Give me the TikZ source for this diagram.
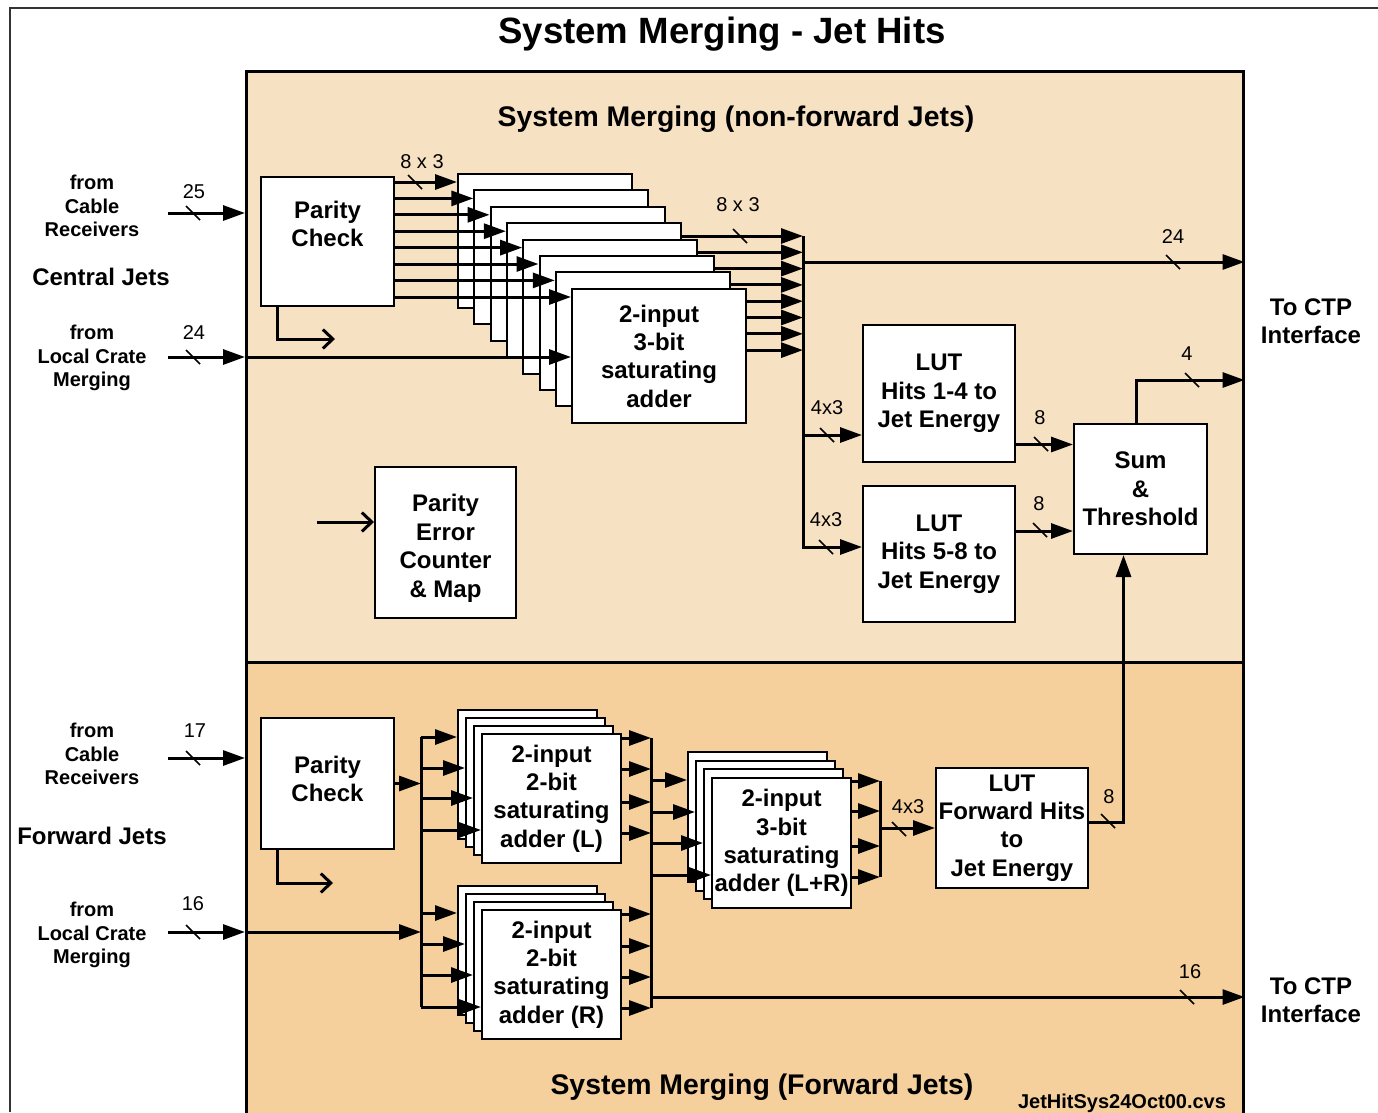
\documentclass[tikz,border=0pt]{standalone}
\usepackage{fontspec}
\setmainfont{Liberation Sans}
\usetikzlibrary{arrows.meta,positioning}
\definecolor{upperfill}{HTML}{F7E1C3}
\definecolor{lowerfill}{HTML}{F5D09C}
\tikzset{
  frame/.style={draw=black!80, line width=1.2pt},
  wire/.style={draw=black, line width=3pt},
  feed/.style={wire, -{Triangle[length=22pt,width=15pt]}},
  tap/.style={wire, -{Straight Barb[length=10pt,width=19pt]}},
  tick/.style={draw=black, line width=1.6pt},
  panel/.style={draw=black, line width=2.5pt, inner sep=0pt, anchor=north west},
  block/.style={
    draw=black,
    fill=white,
    line width=2pt,
    inner sep=0pt,
    anchor=north west,
    align=center,
    font=\bfseries\fontsize{24}{28.3}\selectfont
  },
  stackbox/.style={block, minimum width=139pt, minimum height=129pt},
  boldlabel/.style={font=\bfseries\fontsize{24}{28.5}\selectfont, align=center},
  inlabel/.style={font=\bfseries\fontsize{20}{23.5}\selectfont, align=center},
  paneltitle/.style={font=\bfseries\fontsize{28.4}{32}\selectfont},
  widthlabel/.style={font=\fontsize{20}{24}\selectfont}
}

\begin{document}
\begin{tikzpicture}[x=1pt, y=-1pt]
  % Frame and the two shaded merging panels.
  \useasboundingbox (0,0) rectangle (1378,1112);
  \draw[frame] (10,1112) -- (10,8) -- (1378,8);
  \node[panel, fill=upperfill, minimum width=997pt, minimum height=591pt] (upper) at (245,70) {};
  \node[panel, fill=lowerfill, minimum width=997pt, minimum height=500pt] (lower) at (245,661) {};

  \node[font=\bfseries\fontsize{36.6}{40}\selectfont] (title) at (722,34) {System Merging - Jet Hits};
  \node[paneltitle] (uppertitle) at (736,119) {System Merging (non-forward Jets)};
  \node[paneltitle] (lowertitle) at (762,1087) {System Merging (Forward Jets)};
  \node[font=\bfseries\fontsize{20}{24}\selectfont] (fileref) at (1122,1103) {JetHitSys24Oct00.cvs};

  \node[inlabel] (ccable) at (92,206) {from\\Cable\\Receivers};
  \node[boldlabel] (cjets) at (101,277) {Central Jets};
  \node[inlabel] (ccrate) at (92,358) {from\\Local Crate\\Merging};
  \node[inlabel] (fcable) at (92,754) {from\\Cable\\Receivers};
  \node[boldlabel] (fjets) at (92,836) {Forward Jets};
  \node[inlabel] (fcrate) at (92,935) {from\\Local Crate\\Merging};
  \node[boldlabel] (ctpup) at (1311,321) {To CTP\\Interface};
  \node[boldlabel] (ctplow) at (1311,1000) {To CTP\\Interface};

  % Central jets: parity check feeding the stack of eight adders.
  \node[block, minimum width=133pt, minimum height=129pt] (pcc) at (260,176) {};
  \node[boldlabel] at ([yshift=-48pt]pcc.north) {Parity\\Check};
  \foreach \k in {0,...,6} {
    \pgfmathsetmacro{\bx}{457+16.3*\k}
    \pgfmathsetmacro{\by}{173+16.4*\k}
    \node[block, minimum width=174pt, minimum height=134pt] (ua\k) at (\bx,\by) {};
  }
  \node[block, minimum width=174pt, minimum height=134pt] (ua7) at (571,288) {2-input\\3-bit\\saturating\\adder};
  \foreach \k in {0,...,7} {
    \coordinate (uin\k) at ([yshift=-9pt]ua\k.north west);
    \draw[feed] (pcc.east |- uin\k) -- (uin\k);
  }

  \coordinate (cin1) at (168,213);
  \coordinate (cin2) at (168,357);
  \draw[feed] (cin1) -- (cin1 -| upper.west);
  \draw[feed] (cin2) -- (cin2 -| upper.west);
  \draw[feed] (cin2 -| upper.west) -- (cin2 -| ua7.west);

  \node[block, minimum width=141pt, minimum height=151pt] (pe) at (374,466) {};
  \node[boldlabel] at ([yshift=-6pt]pe.center) {Parity\\Error\\Counter\\\& Map};
  \coordinate (pein) at (317,522);
  \draw[tap] (pein) -- (pein -| pe.west);
  \coordinate (pccflag) at (335,339);
  \draw[tap] ([xshift=-50pt]pcc.south) |- (pccflag);

  \node[block, minimum width=152pt, minimum height=137pt] (lut1) at (862,324) {LUT\\Hits 1-4 to\\Jet Energy};
  \node[block, minimum width=152pt, minimum height=136pt] (lut2) at (862,485) {LUT\\Hits 5-8 to\\Jet Energy};
  \node[block, minimum width=133pt, minimum height=130pt] (sum) at (1073,423) {Sum\\\&\\Threshold};

  \foreach \j in {0,...,7} {
    \pgfmathtruncatemacro{\s}{min(3+\j,7)}
    \coordinate (uout\j) at (803,{236+16.3*\j});
    \draw[feed] (ua\s.east |- uout\j) -- (uout\j);
  }
  \coordinate (ubus1) at (803,435);
  \coordinate (ubus2) at (803,547);
  \coordinate (ubus24) at (803,262);
  \draw[feed] (uout0) -- (ubus2) -- (ubus2 -| lut2.west);
  \draw[feed] (ubus1) -- (ubus1 -| lut1.west);
  \draw[feed] (ubus24) -- (ubus24 -| upper.east);
  \draw[feed] ([yshift=-51pt]lut1.east) -- ([yshift=-51pt]lut1.east -| sum.west);
  \draw[feed] ([yshift=23pt]lut2.east) -- ([yshift=23pt]lut2.east -| sum.west);
  \coordinate (ctpfour) at (upper.east |- 0,380);
  \draw[feed] ([xshift=-4pt]sum.north) |- (ctpfour);

  % Forward jets: parity check, left/right adders, L+R adder and LUT.
  \node[block, minimum width=133pt, minimum height=131pt] (pcf) at (260,717) {};
  \node[boldlabel] at ([yshift=-62pt]pcf.north) {Parity\\Check};
  \coordinate (pcfflag) at (333,883);
  \draw[tap] ([xshift=-50pt]pcf.south) |- (pcfflag);

  \coordinate (fin1) at (168,758);
  \coordinate (fin2) at (168,932);
  \draw[feed] (fin1) -- (fin1 -| lower.west);
  \draw[feed] (fin2) -- (fin2 -| lower.west);

  \coordinate (lbustop) at (421,737);
  \coordinate (lbusbot) at (421,1007);
  \draw[wire] (lbustop) -- (lbusbot);
  \draw[feed] (pcf.east) -- (pcf.east -| lbustop);
  \draw[feed] (fin2 -| lower.west) -- (fin2 -| lbustop);

  \foreach \k in {0,1,2} {
    \pgfmathsetmacro{\bx}{457+8*\k}
    \node[stackbox] (la\k) at (\bx,{709+8*\k}) {};
    \node[stackbox] (ra\k) at (\bx,{885+8*\k}) {};
  }
  \node[stackbox] (la3) at (481,733) {2-input\\2-bit\\saturating\\adder (L)};
  \node[stackbox] (ra3) at (481,909) {2-input\\2-bit\\saturating\\adder (R)};
  \foreach \k/\y in {0/737,1/768,2/798,3/830} {
    \coordinate (lin\k) at (la\k.west |- 0,\y);
    \draw[feed] (lbustop |- lin\k) -- (lin\k);
  }
  \foreach \k/\y in {0/913,1/944,2/975,3/1007} {
    \coordinate (rin\k) at (ra\k.west |- 0,\y);
    \draw[feed] (lbustop |- rin\k) -- (rin\k);
  }

  \coordinate (rbustop) at (651,738);
  \coordinate (rbusbot) at (651,1008);
  \draw[wire] (rbustop) -- (rbusbot);
  \foreach \y in {738,769,802,833} {
    \draw[feed] (la3.east |- 0,\y) -- (rbustop |- 0,\y);
  }
  \foreach \y in {914,946,977,1008} {
    \draw[feed] (ra3.east |- 0,\y) -- (rbustop |- 0,\y);
  }
  \coordinate (rbus16) at (651,997);
  \draw[feed] (rbus16) -- (rbus16 -| lower.east);

  \foreach \k in {0,1,2} {
    \node[block, minimum width=139pt, minimum height=130pt] (lr\k) at ({687+8*\k},{751+8.7*\k}) {};
  }
  \node[block, minimum width=139pt, minimum height=130pt] (lr3) at (711,777) {2-input\\3-bit\\saturating\\adder (L+R)};
  \foreach \k/\y in {0/780,1/812,2/843,3/875} {
    \coordinate (lrin\k) at (lr\k.west |- 0,\y);
    \draw[feed] (rbustop |- lrin\k) -- (lrin\k);
  }

  \node[block, minimum width=152pt, minimum height=120pt] (lutf) at (935,767) {LUT\\Forward Hits\\to\\Jet Energy};
  \coordinate (fbustop) at (880,781);
  \coordinate (fbusbot) at (880,877);
  \draw[wire] (fbustop) -- (fbusbot);
  \foreach \y in {781,811,846,877} {
    \draw[feed] (lr3.east |- 0,\y) -- (fbustop |- 0,\y);
  }
  \draw[feed] (fbustop |- lutf.west) -- (lutf.west);
  \draw[feed] ([yshift=6pt]lutf.east) -| ([xshift=-17pt]sum.south);

  % Bus width ticks.
  \foreach \x/\y/\lx/\ly/\w in {193/213/194/192/25, 193/357/194/333/24, 193/758/195/731/17,
      193/932/193/904/16, 415/182/422/162/8 x 3, 740/236/738/205/8 x 3, 1173/262/1173/237/24,
      827/435/827/408/4x3, 826/547/826/520/4x3, 1041/444/1040/418/8, 1040/530/1039/504/8,
      1192/380/1187/354/4, 899/829/908/807/4x3, 1108/821/1109/797/8, 1187/997/1190/972/16} {
    \draw[tick] (\x-7,\y-7) -- (\x+7,\y+7);
    \node[widthlabel] at (\lx,\ly) {\w};
  }
\end{tikzpicture}
\end{document}
